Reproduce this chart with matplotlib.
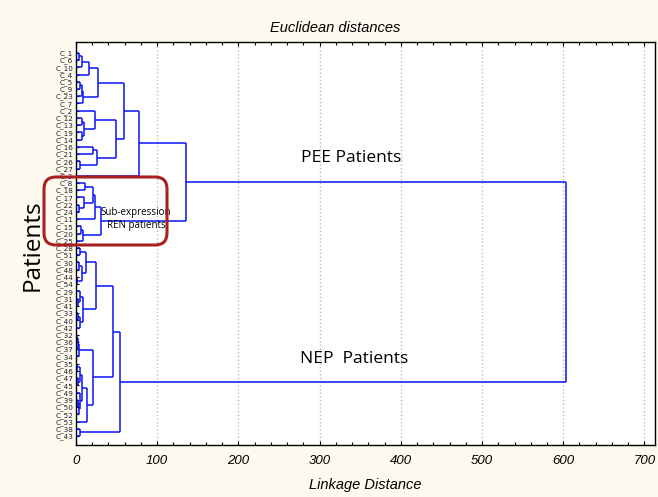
import matplotlib
matplotlib.use("Agg")
import matplotlib.pyplot as plt
from matplotlib.patches import FancyBboxPatch
from matplotlib.transforms import IdentityTransform
from matplotlib.ticker import MultipleLocator

# leaf order, top to bottom
leaves = ["C_1", "C_6", "C_10", "C_4", "C_5", "C_9", "C_23", "C_7", "C_2",
          "C_12", "C_13", "C_19", "C_14", "C_16", "C_21", "C_26", "C_27", "C_3",
          "C_8", "C_18", "C_17", "C_22", "C_24", "C_11", "C_15", "C_20", "C_25",
          "C_28", "C_51", "C_30", "C_48", "C_44", "C_54", "C_29", "C_31", "C_41",
          "C_33", "C_40", "C_42", "C_32", "C_36", "C_37", "C_34", "C_35", "C_46",
          "C_47", "C_45", "C_49", "C_39", "C_50", "C_52", "C_53", "C_38", "C_43"]

# merges: (upper child, lower child, linkage distance)
# a child is a leaf name or the index of an earlier merge
merges = [
    ("C_1", "C_6", 4), (0, "C_10", 8), (1, "C_4", 16),
    ("C_5", "C_9", 5), (3, "C_23", 7), (4, "C_7", 9), (2, 5, 27.5),
    ("C_12", "C_13", 7), ("C_19", "C_14", 8), (7, 8, 10), ("C_2", 9, 23.5),
    ("C_16", "C_21", 20.5), ("C_26", "C_27", 5), (11, 12, 25.5), (10, 13, 49),
    (6, 14, 59), (15, "C_3", 77.5),
    ("C_8", "C_18", 11), ("C_22", "C_24", 4), ("C_17", 18, 10), (17, 19, 21),
    (20, "C_11", 23.5), ("C_15", "C_20", 6), (22, "C_25", 9), (21, 23, 30.5),
    (16, 24, 136),
    ("C_28", "C_51", 5), ("C_30", "C_48", 4), ("C_44", "C_54", 1.5),
    (27, 28, 8), (26, 29, 12), ("C_31", "C_41", 3), ("C_29", 31, 5),
    ("C_33", "C_40", 3), (33, "C_42", 5), (32, 34, 9), (30, 35, 24.5),
    ("C_32", "C_36", 1), (37, "C_37", 2), (38, "C_34", 4),
    ("C_35", "C_46", 1.5), ("C_47", "C_45", 3), (40, 41, 5),
    ("C_39", "C_50", 3), (43, "C_52", 4), ("C_49", 44, 5.5), (42, 45, 8),
    (46, "C_53", 14), (39, 47, 20.5), (36, 48, 45), ("C_38", "C_43", 5),
    (49, 50, 54), (25, 51, 603),
]

xticks = [0, 100, 200, 300, 400, 500, 600, 700]

bg = "#fdf9ee"
line_col = "#0a14f5"

fig = plt.figure(figsize=(6.58, 4.97), dpi=100, facecolor=bg)
ax = fig.add_axes([76 / 658, 1 - 445 / 497, (655 - 76) / 658, (445 - 42) / 497])
ax.set_facecolor("white")

pos = {name: i for i, name in enumerate(leaves)}
node_y = []
node_h = []


def child(c):
    if isinstance(c, str):
        return pos[c], 0.0
    return node_y[c], node_h[c]


for a, b, h in merges:
    ya, ha = child(a)
    yb, hb = child(b)
    ax.plot([ha, h], [ya, ya], color=line_col, lw=1.1, solid_capstyle="butt")
    ax.plot([hb, h], [yb, yb], color=line_col, lw=1.1, solid_capstyle="butt")
    ax.plot([h, h], [ya, yb], color=line_col, lw=1.1, solid_capstyle="butt")
    node_y.append((ya + yb) / 2)
    node_h.append(h)

ax.set_xlim(0, 713)
ax.set_ylim(len(leaves) - 1 + 1.25, -1.5)
ax.set_xticks(xticks)
ax.xaxis.set_minor_locator(MultipleLocator(20))
ax.set_xticklabels([str(t) for t in xticks], fontstyle="italic", fontsize=9.5,
                   family="Liberation Sans")
ax.set_yticks(range(len(leaves)))
ax.set_yticklabels(leaves, fontsize=5.2, family="DejaVu Sans", color="#222222")
ax.tick_params(axis="x", which="both", direction="in", top=True, bottom=True,
               length=3, width=0.8, pad=7)
ax.tick_params(axis="x", which="minor", length=2)
ax.tick_params(axis="y", direction="in", length=2, width=0.8, pad=2)
ax.grid(axis="x", color="#bbbbbb", linestyle=":", linewidth=1.0)
ax.set_axisbelow(True)
for s in ax.spines.values():
    s.set_linewidth(1.0)
    s.set_color("black")

ax.set_xlabel("Linkage Distance", fontstyle="italic", fontsize=10.5,
              family="Liberation Sans", labelpad=8)
fig.text(335 / 658, 1 - 28 / 497, "Euclidean distances", fontstyle="italic",
         fontsize=10.5, family="Liberation Sans", ha="center", va="center")
fig.text(33 / 658, 1 - 245 / 497, "Patients", rotation=90, fontsize=17.5,
         ha="center", va="center", family="Open Sans")

ax.text(339, 14.6, "PEE Patients", fontsize=12.5, ha="center", va="center",
        family="Open Sans")
ax.text(343, 42.3, "NEP  Patients", fontsize=12.5, ha="center", va="center",
        family="Open Sans")
ax.text(74, 23.0, "Sub-expression\nREN patients", fontsize=7, ha="center",
        va="center", family="Open Sans", linespacing=1.3)

box = FancyBboxPatch((44, 497 - 245), 123, 68,
                     boxstyle="round,pad=0,rounding_size=12",
                     transform=IdentityTransform(), fill=False,
                     edgecolor="#a8201f", linewidth=2.2)
fig.add_artist(box)

fig.savefig("out.png", dpi=100, facecolor=bg)
